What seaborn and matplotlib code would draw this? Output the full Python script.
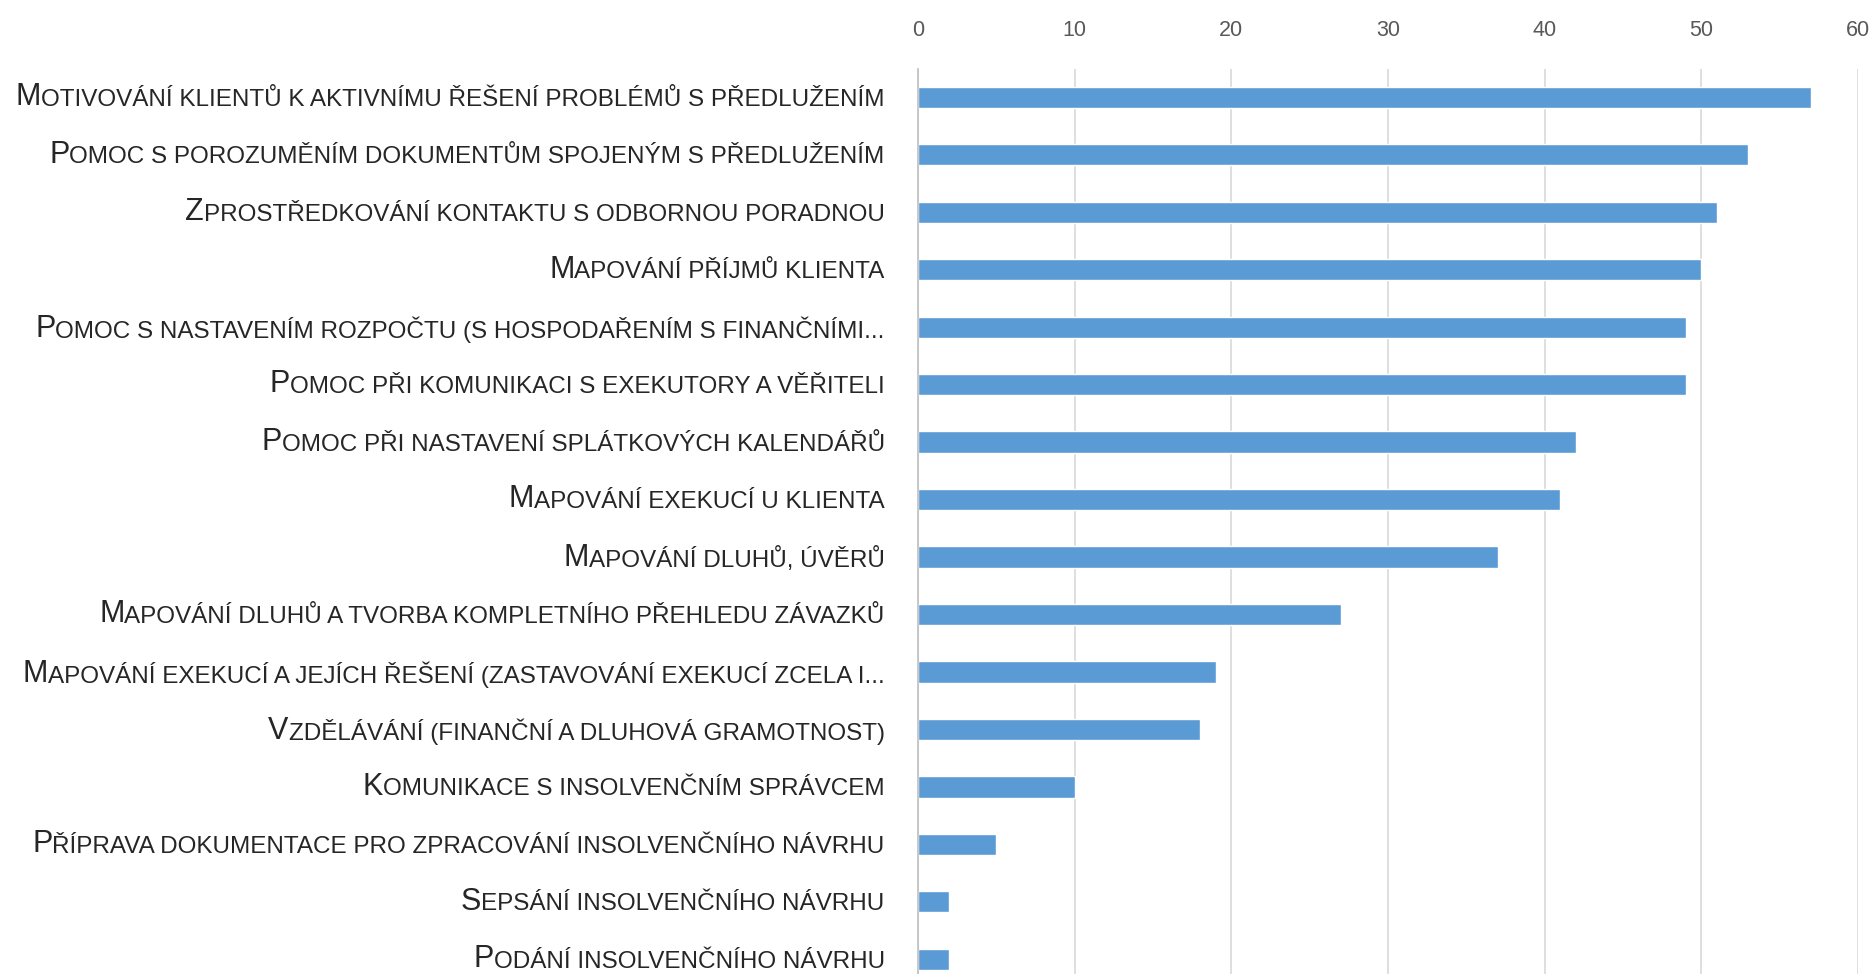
import matplotlib
matplotlib.use("Agg")
import matplotlib.pyplot as plt
import seaborn as sns
import pandas as pd

# --- data ---
activities = [
    "Motivování klientů k aktivnímu řešení problémů s předlužením",
    "Pomoc s porozuměním dokumentům spojeným s předlužením",
    "Zprostředkování kontaktu s odbornou poradnou",
    "Mapování příjmů klienta",
    "Pomoc s nastavením rozpočtu (s hospodařením s finančními...",
    "Pomoc při komunikaci s exekutory a věřiteli",
    "Pomoc při nastavení splátkových kalendářů",
    "Mapování exekucí u klienta",
    "Mapování dluhů, úvěrů",
    "Mapování dluhů a tvorba kompletního přehledu závazků",
    "Mapování exekucí a jejích řešení (zastavování exekucí zcela i...",
    "Vzdělávání (finanční a dluhová gramotnost)",
    "Komunikace s insolvenčním správcem",
    "Příprava dokumentace pro zpracování insolvenčního návrhu",
    "Sepsání insolvenčního návrhu",
    "Podání insolvenčního návrhu",
]
counts = [57, 53, 51, 50, 49, 49, 42, 41, 37, 27, 19, 18, 10, 5, 2, 2]
x_ticks = [0, 10, 20, 30, 40, 50, 60]

BAR_COLOR = "#5B9BD5"
GRID_COLOR = "#D9D9D9"
TEXT_COLOR = "#262626"
BIG, SMALL = 22, 17.5

df = pd.DataFrame({"activity": activities, "count": counts})

sns.set_style("white")
plt.rcParams["font.family"] = ["Liberation Sans", "DejaVu Sans"]

fig = plt.figure(figsize=(18.76, 9.74), dpi=100)
ax = fig.add_axes([918 / 1876, -0.0144, (1858 - 918) / 1876, 0.944])

sns.barplot(data=df, x="count", y="activity", color=BAR_COLOR,
            width=0.37, saturation=1, ax=ax, orient="h")

ax.set_xlim(0, 60)
ax.set_xticks(x_ticks)
ax.xaxis.tick_top()
ax.tick_params(axis="x", length=0, pad=20, labelsize=15.5, labelcolor="#595959")
ax.grid(axis="x", color=GRID_COLOR, linewidth=1.2)
ax.set_axisbelow(True)
ax.set_xlabel("")
ax.set_ylabel("")
for side in ["top", "right", "bottom"]:
    ax.spines[side].set_visible(False)
ax.spines["left"].set_color("#BFBFBF")
ax.spines["left"].set_linewidth(1.2)

# small caps: first letter large, the rest uppercase and smaller
ax.set_yticks(range(len(activities)))
ax.set_yticklabels([a[1:].upper() for a in activities])
ax.tick_params(axis="y", length=0, pad=24, labelsize=SMALL, labelcolor=TEXT_COLOR)

fig.canvas.draw()
for lab, name in zip(ax.get_yticklabels(), activities):
    ax.annotate(name[0].upper(), xy=(0, 0), xycoords=lab,
                xytext=(0, -(BIG - SMALL) * 0.21), textcoords="offset points",
                ha="right", va="bottom", fontsize=BIG, color=TEXT_COLOR,
                annotation_clip=False)

fig.savefig("out.png", dpi=100)
plt.close(fig)
